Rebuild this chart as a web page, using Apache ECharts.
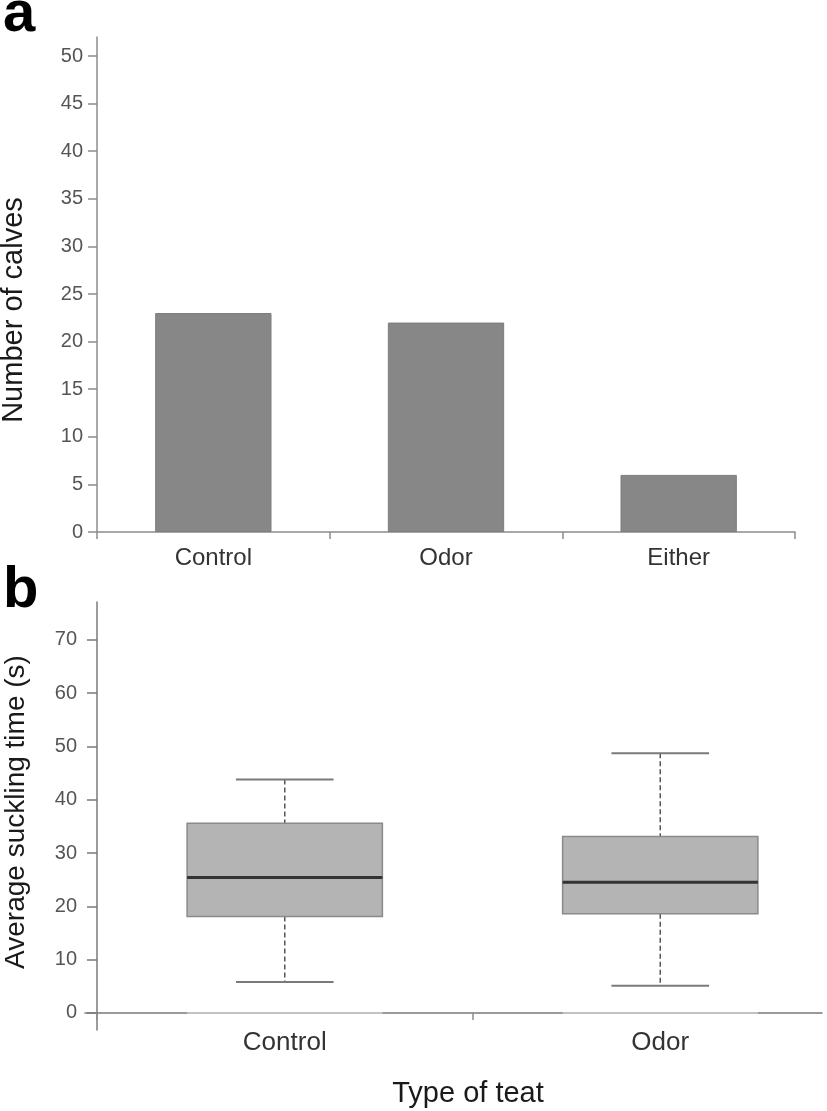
<!DOCTYPE html>
<html>
<head>
<meta charset="utf-8">
<script src="https://cdn.jsdelivr.net/npm/echarts@6/dist/echarts.min.js"></script>
<style>
html,body{margin:0;padding:0;background:#fff;}
#chart{width:827px;height:1111px;}
</style>
</head>
<body>
<div id="chart"></div>
<script>
// Panel a data
const barCategories = ['Control', 'Odor', 'Either'];
const calves = [23, 22, 6];
const barTicks = [0, 5, 10, 15, 20, 25, 30, 35, 40, 45, 50];

// Panel b data (box plot summary)
const boxCategories = ['Control', 'Odor'];
const boxMin = [5.8, 5.1];
const boxQ1 = [18.1, 18.6];
const boxMedian = [25.4, 24.5];
const boxQ3 = [35.6, 33.1];
const boxMax = [43.8, 48.7];
const boxTicks = [0, 10, 20, 30, 40, 50, 60, 70];

const FONT = "'Liberation Sans', Arial, sans-serif";
const boxData = boxCategories.map((c, i) => [i, boxMin[i], boxQ1[i], boxMedian[i], boxQ3[i], boxMax[i]]);

const chart = echarts.init(document.getElementById('chart'), null, {renderer: 'canvas'});

const option = {
  backgroundColor: '#ffffff',
  animation: false,
  grid: [
    {left: 97, right: 32, top: 37, bottom: 579, containLabel: false, outerBoundsMode: 'none'},
    {left: 97, width: 751, top: 602, bottom: 81, containLabel: false, outerBoundsMode: 'none'},
    {left: 85, right: 5, top: 602, bottom: 81, containLabel: false, outerBoundsMode: 'none'}
  ],
  xAxis: [
    {
      gridIndex: 0, type: 'category', data: barCategories, boundaryGap: true,
      axisLine: {show: true, lineStyle: {color: '#8c8c8c', width: 1.5}},
      axisTick: {show: true, length: 7, lineStyle: {color: '#8c8c8c', width: 1.5}},
      axisLabel: {color: '#333', fontSize: 24, fontFamily: FONT, margin: 14},
      splitLine: {show: false}
    },
    {
      gridIndex: 1, type: 'category', data: boxCategories, boundaryGap: true,
      axisLine: {show: true, onZero: true, lineStyle: {color: '#ffffff', opacity: 0, width: 0}},
      axisTick: {show: true, length: 7, lineStyle: {color: '#8c8c8c', width: 1.5}},
      axisLabel: {color: '#333', fontSize: 26, fontFamily: FONT, margin: 0},
      splitLine: {show: false}
    },
    {
      gridIndex: 2, type: 'value', min: 0, max: 1,
      axisLine: {show: true, onZero: true, lineStyle: {color: '#7a7a7a', width: 1.5}},
      axisTick: {show: false}, axisLabel: {show: false}, splitLine: {show: false}
    }
  ],
  yAxis: [
    {
      gridIndex: 0, type: 'value', min: 0, max: 52,
      axisLine: {show: true, lineStyle: {color: '#8c8c8c', width: 1.5}},
      axisTick: {show: true, length: 9, customValues: barTicks, lineStyle: {color: '#8c8c8c', width: 1.5}},
      axisLabel: {color: '#555', fontSize: 20, fontFamily: FONT, margin: 14, customValues: barTicks},
      splitLine: {show: false}
    },
    {
      gridIndex: 1, type: 'value', min: -3.2, max: 77.1,
      axisLine: {show: true, onZero: false, lineStyle: {color: '#7a7a7a', width: 1.5}},
      axisTick: {show: true, length: 10, customValues: boxTicks, lineStyle: {color: '#7a7a7a', width: 1.5}},
      axisLabel: {color: '#555', fontSize: 20, fontFamily: FONT, margin: 20, customValues: boxTicks},
      splitLine: {show: false}
    },
    {
      gridIndex: 2, type: 'value', min: -3.2, max: 77.1, show: false
    }
  ],
  graphic: [
    {type: 'text', x: 3, y: 44, style: {text: 'a', font: "bold 58px " + FONT, fill: '#000', verticalAlign: 'bottom'}},
    {type: 'text', x: 3, y: 620, style: {text: 'b', font: "bold 58px " + FONT, fill: '#000', verticalAlign: 'bottom'}},
    {type: 'text', x: 14, y: 310, rotation: Math.PI / 2,
     style: {text: 'Number of calves', font: "29px " + FONT, fill: '#1a1a1a', align: 'center', verticalAlign: 'middle'}},
    {type: 'text', x: 16, y: 812, rotation: Math.PI / 2,
     style: {text: 'Average suckling time (s)', font: "28px " + FONT, fill: '#1a1a1a', align: 'center', verticalAlign: 'middle'}},
    {type: 'text', x: 468, y: 1094,
     style: {text: 'Type of teat', font: "29px " + FONT, fill: '#1a1a1a', align: 'center', verticalAlign: 'middle'}}
  ],
  series: [
    {
      type: 'bar', xAxisIndex: 0, yAxisIndex: 0, data: calves, barWidth: '50%',
      itemStyle: {color: '#878787', borderColor: '#7d7d7d', borderWidth: 1}
    },
    {
      type: 'custom', xAxisIndex: 1, yAxisIndex: 1, data: boxData,
      encode: {x: 0, y: [1, 2, 3, 4, 5]},
      renderItem: function (params, api) {
        const idx = api.value(0);
        const band = api.size([1, 0])[0];
        const boxW = band * 0.52;
        const capW = boxW * 0.5;
        const pMin = api.coord([idx, api.value(1)]);
        const pQ1 = api.coord([idx, api.value(2)]);
        const pMed = api.coord([idx, api.value(3)]);
        const pQ3 = api.coord([idx, api.value(4)]);
        const pMax = api.coord([idx, api.value(5)]);
        const pZero = api.coord([idx, 0]);
        const cx = pMed[0];
        const dash = {stroke: '#555', lineWidth: 1.5, lineDash: [5, 3]};
        const cap = {stroke: '#7a7a7a', lineWidth: 2};
        return {
          type: 'group',
          children: [
            {type: 'line', shape: {x1: cx - boxW / 2, y1: pZero[1], x2: cx + boxW / 2, y2: pZero[1]}, style: {stroke: '#cfcfcf', lineWidth: 1.5}},
            {type: 'line', shape: {x1: cx, y1: pMax[1], x2: cx, y2: pQ3[1]}, style: dash},
            {type: 'line', shape: {x1: cx, y1: pQ1[1], x2: cx, y2: pMin[1]}, style: dash},
            {type: 'line', shape: {x1: cx - capW / 2, y1: pMax[1], x2: cx + capW / 2, y2: pMax[1]}, style: cap},
            {type: 'line', shape: {x1: cx - capW / 2, y1: pMin[1], x2: cx + capW / 2, y2: pMin[1]}, style: cap},
            {type: 'rect', shape: {x: cx - boxW / 2, y: pQ3[1], width: boxW, height: pQ1[1] - pQ3[1]},
             style: {fill: '#b4b4b4', stroke: '#8a8a8a', lineWidth: 1.5}},
            {type: 'line', shape: {x1: cx - boxW / 2, y1: pMed[1], x2: cx + boxW / 2, y2: pMed[1]}, style: {stroke: '#333', lineWidth: 3}}
          ]
        };
      }
    }
  ]
};
chart.setOption(option);
</script>
</body>
</html>
